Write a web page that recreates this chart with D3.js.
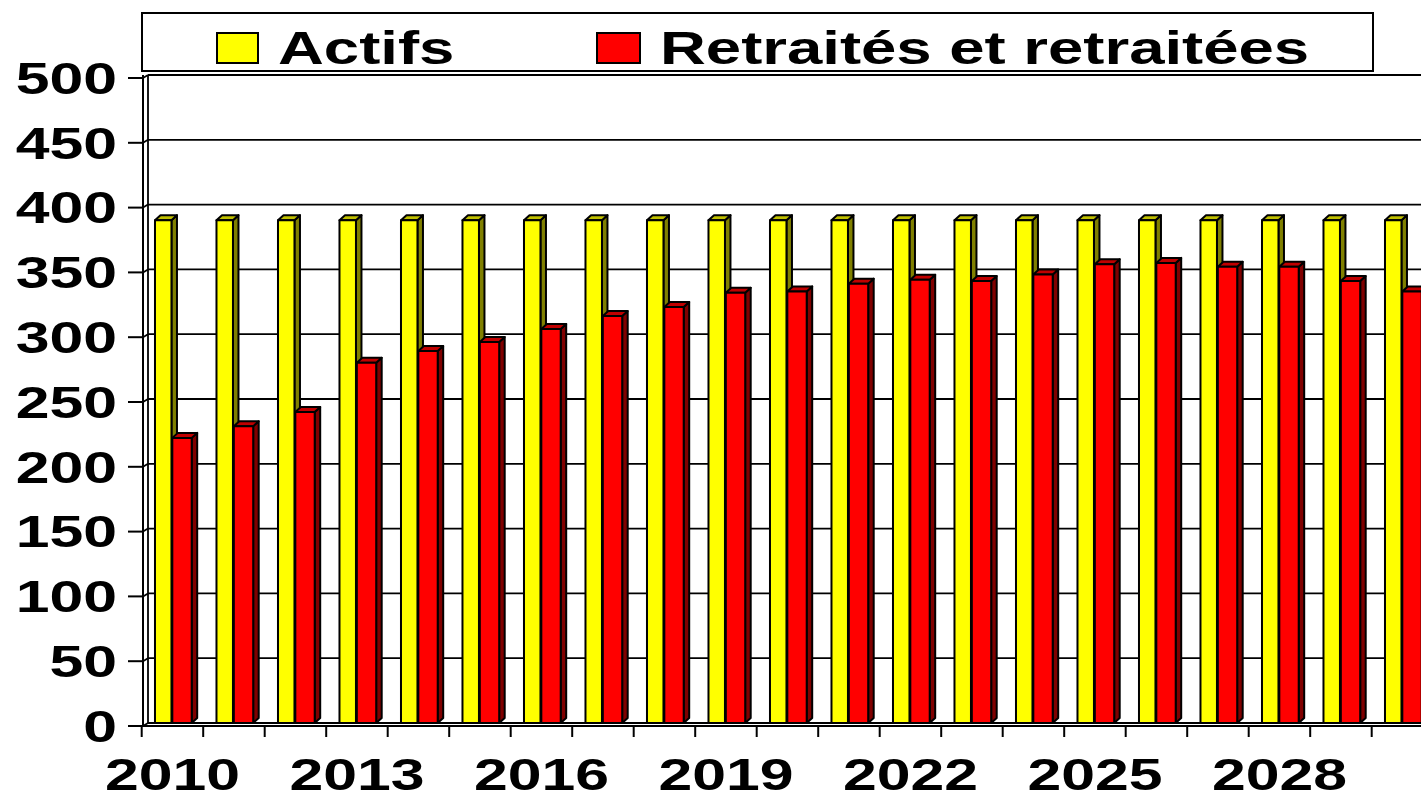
<!DOCTYPE html>
<html>
<head>
<meta charset="utf-8">
<script src="https://cdn.jsdelivr.net/npm/d3@7.9.0/dist/d3.min.js"></script>
<style>
  body { margin: 0; background: #fff; }
  svg { display: block; }
  text { font-family: "Liberation Sans", Arial, sans-serif; font-weight: bold; fill: #000; }
</style>
</head>
<body>
<svg id="chart" width="1421" height="796"></svg>
<script>
// values
const years = ['2010','2011','2012','2013','2014','2015','2016','2017','2018','2019','2020',
               '2021','2022','2023','2024','2025','2026','2027','2028','2029','2030'];
const actifs = [388,388,388,388,388,388,388,388,388,388,388,388,388,388,388,388,388,388,388,388,388];
const retraites = [220,229,240,278,287,294,304,314,321,332,333,339,342,341,346,354,355,352,352,341,333];
const yTicks = [0,50,100,150,200,250,300,350,400,450,500];
const xLabels = ['2010','2013','2016','2019','2022','2025','2028'];
const seriesNames = ['Actifs', 'Retraités et retraitées'];

const svg = d3.select('#chart');
const W = 1421;
const stretch = 1.38;   // the text in the picture is wide

// back wall scale, front axis is offset by (-5, +3)
let y = d3.scaleLinear().domain([0, 500]).range([723, 75]);
let x = d3.scaleBand().domain(years).range([141.7, 141.7 + 21 * 61.5]);
const offX = -5, offY = 3;
const bw = x.bandwidth();

// back wall: left edge, floor, gridlines
let grid = svg.append('g').attr('stroke', '#000').attr('stroke-width', 1.8);
grid.append('line').attr('x1', 148).attr('x2', 148).attr('y1', y(500)).attr('y2', y(0));
yTicks.forEach(t => {
  grid.append('line').attr('x1', 148).attr('x2', W).attr('y1', y(t)).attr('y2', y(t));
  grid.append('line').attr('x1', 148 + offX).attr('x2', 148).attr('y1', y(t) + offY).attr('y2', y(t));
});

// bars
const colors = [
  { front: '#ffff00', side: '#808000', top: '#c0c000' },
  { front: '#ff0000', side: '#800000', top: '#c00000' }
];
const layout = [ { start: 0.216, width: 0.268 }, { start: 0.498, width: 0.315 } ];
const dx = 5.5, dy = -5;

let bars = svg.append('g').attr('stroke', '#000').attr('stroke-width', 2).attr('stroke-linejoin', 'round');
years.forEach((yr, i) => {
  [actifs[i], retraites[i]].forEach((v, s) => {
    let x0 = x(yr) + layout[s].start * bw;
    let w = layout[s].width * bw;
    let yt = y(v), yb = y(0);
    let g = bars.append('g');
    g.append('polygon')
      .attr('points', [[x0 + w, yt], [x0 + w + dx, yt + dy], [x0 + w + dx, yb + dy], [x0 + w, yb]].join(' '))
      .attr('fill', colors[s].side);
    g.append('polygon')
      .attr('points', [[x0, yt], [x0 + dx, yt + dy], [x0 + w + dx, yt + dy], [x0 + w, yt]].join(' '))
      .attr('fill', colors[s].top);
    g.append('rect')
      .attr('x', x0).attr('y', yt).attr('width', w).attr('height', yb - yt)
      .attr('fill', colors[s].front);
  });
});

// front axes
let axes = svg.append('g').attr('stroke', '#000').attr('stroke-width', 2);
const axX = 148 + offX, axY = y(0) + offY;
axes.append('line').attr('x1', axX).attr('x2', axX).attr('y1', y(500)).attr('y2', axY);
axes.append('line').attr('x1', axX - 15).attr('x2', W).attr('y1', axY).attr('y2', axY);
yTicks.forEach(t => {
  axes.append('line').attr('x1', axX - 15).attr('x2', axX).attr('y1', y(t) + offY).attr('y2', y(t) + offY);
});
years.concat(['end']).forEach((yr, i) => {
  let xx = i < years.length ? x(yr) : x.range()[1];
  axes.append('line').attr('x1', xx).attr('x2', xx).attr('y1', axY).attr('y2', axY + 11);
});

// tick labels
yTicks.forEach(t => {
  svg.append('g')
    .attr('transform', `translate(117,${y(t) + offY + 15.8}) scale(${stretch},1)`)
    .append('text')
    .attr('text-anchor', 'end')
    .attr('font-size', 44)
    .text(t);
});
xLabels.forEach(l => {
  svg.append('g')
    .attr('transform', `translate(${x(l) + bw / 2},790) scale(${stretch},1)`)
    .append('text')
    .attr('text-anchor', 'middle')
    .attr('font-size', 44)
    .text(l);
});

// legend
let legend = svg.append('g');
legend.append('rect')
  .attr('x', 142).attr('y', 13).attr('width', 1231).attr('height', 58)
  .attr('fill', '#fff').attr('stroke', '#000').attr('stroke-width', 2);
const legendItems = [ { sx: 217, sw: 41, tx: 278 }, { sx: 597, sw: 43, tx: 660 } ];
seriesNames.forEach((name, s) => {
  legend.append('rect')
    .attr('x', legendItems[s].sx).attr('y', 33).attr('width', legendItems[s].sw).attr('height', 30)
    .attr('fill', colors[s].front).attr('stroke', '#000').attr('stroke-width', 2);
  legend.append('g')
    .attr('transform', `translate(${legendItems[s].tx},64) scale(${stretch},1)`)
    .append('text')
    .attr('font-size', 46)
    .text(name);
});
</script>
</body>
</html>
